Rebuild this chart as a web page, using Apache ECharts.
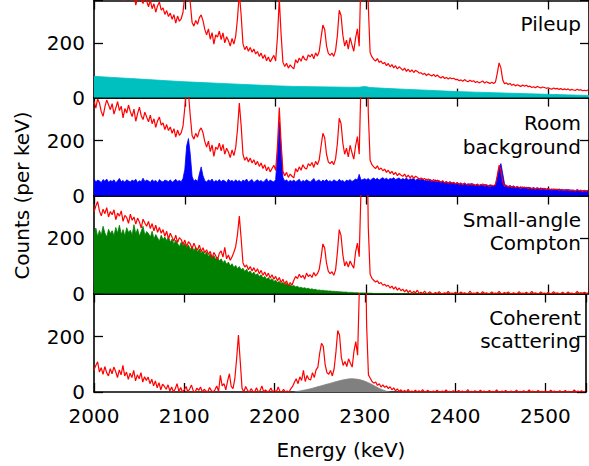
<!DOCTYPE html>
<html>
<head>
<meta charset="utf-8">
<script src="https://cdn.jsdelivr.net/npm/echarts@6/dist/echarts.min.js"></script>
<style>
  html, body { margin: 0; padding: 0; background: #fff; }
  #chart { width: 589px; height: 466px; }
</style>
</head>
<body>
<div id="chart"></div>
<script>
// spectra binned at 2 keV, first bin at 2000 keV (one row = 20 keV)
const E0 = 2000, STEP = 2;

// panel 1: measured spectrum
const dataTotal = [
  419,395,428,413,382,365,399,424,407,389,
  407,369,391,414,382,398,355,389,373,402,
  374,356,383,339,367,390,359,345,372,354,
  333,357,326,344,313,337,350,321,329,305,
  319,297,310,287,304,273,299,280,289,313,
  377,452,429,347,275,262,283,269,293,303,
  282,250,230,252,214,238,196,230,222,244,
  213,237,201,223,209,189,217,196,225,291,
  384,303,198,176,188,170,184,166,178,160,
  169,151,163,143,157,135,149,131,143,155,
  134,222,362,232,130,114,126,108,120,112,
  105,139,127,145,133,153,141,137,157,149,
  160,142,164,152,170,220,266,250,190,162,
  155,163,151,173,229,320,301,229,189,211,
  178,220,194,170,218,252,188,458,860,990,
  800,338,165,149,140,134,143,129,134,124,
  129,117,125,113,121,109,117,105,113,107,
  100,108,96,104,94,102,92,100,96,90,
  91,85,89,81,87,83,79,85,77,83,
  76,72,78,70,74,68,73,69,71,66,
  67,62,65,60,66,61,58,64,59,62,
  55,59,54,57,61,53,58,55,52,56,
  52,57,89,127,109,65,51,54,48,52,
  45,49,43,47,44,41,46,42,45,40,
  42,37,40,36,41,38,35,39,37,34,
  36,33,31,35,32,34,30,33,29,32,
  29,32,27,30,28,26,31,27,29,25,
  27,25,28
];
// panel 2: after pileup subtraction
const minusPileup = [
  342,318,351,336,305,288,322,347,330,312,
  334,296,318,341,309,325,282,316,300,329,
  305,287,314,270,298,321,290,276,303,285,
  268,292,261,279,248,272,285,256,264,240,
  258,236,249,226,243,212,238,219,228,252,
  320,395,372,290,218,205,226,212,236,246,
  228,196,176,198,160,184,142,176,168,190,
  162,186,150,172,158,138,166,145,174,240,
  336,255,150,128,140,122,136,118,130,112,
  124,106,118,98,112,90,104,86,98,110,
  92,180,320,190,88,72,84,66,78,70,
  64,98,86,104,92,112,100,96,116,108,
  120,102,124,112,130,180,226,210,150,122,
  116,124,112,134,190,281,262,190,150,172,
  140,182,156,132,180,214,150,420,820,950,
  760,300,128,112,104,98,108,94,100,90,
  96,84,92,80,88,76,84,72,80,74,
  70,78,66,74,64,72,62,70,66,60,
  64,58,62,54,60,56,52,58,50,56,
  52,48,54,46,50,44,49,45,47,42,
  46,41,44,39,45,40,37,43,38,41,
  36,40,35,38,42,34,39,36,33,37,
  35,40,72,110,92,48,34,37,31,35,
  30,34,28,32,29,26,31,27,30,25,
  29,24,27,23,28,25,22,26,24,21,
  25,22,20,24,21,23,19,22,18,21,
  19,22,17,20,18,16,21,17,19,15,
  18,16,19
];
// panel 3: after room background subtraction
const minusRoom = [
  296,318,334,300,282,306,290,312,278,298,
  286,304,268,292,281,300,262,284,276,255,
  288,266,278,252,274,260,238,270,256,244,
  262,236,254,228,248,222,240,219,232,208,
  226,198,219,204,190,212,185,203,196,178,
  194,170,188,180,162,183,166,158,176,152,
  166,148,159,142,153,128,149,137,122,146,
  155,132,168,126,140,121,133,150,170,215,
  281,200,112,96,104,86,98,82,94,78,
  90,72,84,66,78,62,74,56,68,52,
  62,46,58,40,52,34,46,28,40,30,
  48,62,54,70,58,66,52,74,62,68,
  58,76,64,72,88,130,180,165,110,80,
  72,79,66,86,150,232,210,140,100,116,
  96,118,104,92,150,183,134,380,760,900,
  700,240,70,55,48,42,46,36,40,30,
  34,26,30,20,27,16,24,12,20,10,
  16,6,14,3,11,0,8,2,12,0,
  5,0,9,0,2,6,0,0,4,0,
  7,0,0,3,0,8,0,2,0,5,
  0,0,6,0,3,0,0,9,0,2,
  0,5,0,0,7,0,3,0,0,6,
  0,2,0,8,0,0,4,0,6,0,
  0,3,0,0,7,0,2,0,5,0,
  0,8,0,3,0,0,6,0,2,0,
  4,0,0,7,0,3,0,0,5,0,
  0,6,0,2,0,0,8,0,3,0,
  5,0,2
];
// panel 4: after small-angle Compton subtraction
const minusCompton = [
  80,96,109,72,88,64,92,70,58,84,
  66,90,74,52,80,62,96,58,72,46,
  68,52,78,40,62,48,70,36,55,42,
  54,30,46,22,40,15,34,8,28,20,
  10,26,4,18,0,12,30,2,16,0,
  8,20,0,12,25,4,0,14,6,18,
  0,10,3,0,16,5,0,8,22,2,
  60,22,30,8,40,66,20,12,48,120,
  206,110,14,0,20,6,0,12,2,0,
  15,0,5,22,0,8,0,3,14,0,
  6,0,18,2,0,10,0,4,0,12,
  20,35,48,30,55,42,78,38,60,46,
  44,70,52,80,90,140,176,165,100,70,
  64,78,58,84,145,222,205,125,96,110,
  92,120,104,90,148,182,133,380,760,900,
  700,240,62,50,38,32,36,24,30,18,
  26,17,22,12,19,8,15,4,11,2,
  8,0,6,0,10,0,4,0,7,0,
  5,0,9,0,2,6,0,0,4,0,
  7,0,0,3,0,8,0,2,0,5,
  0,0,6,0,3,0,0,9,0,2,
  0,5,0,0,7,0,3,0,0,6,
  0,2,0,8,0,0,4,0,6,0,
  0,3,0,0,7,0,2,0,5,0,
  0,8,0,3,0,0,6,0,2,0,
  4,0,0,7,0,3,0,0,5,0,
  0,6,0,2,0,0,8,0,3,0,
  5,0,2
];

// fitted components
const roomBg = [
  61,49,56,53,47,58,52,60,48,55,
  51,57,46,54,62,50,55,48,57,53,
  49,56,52,59,47,54,50,63,51,56,
  53,48,57,51,55,46,58,52,49,56,
  54,50,57,48,53,59,51,55,50,62,
  95,180,207,150,70,52,58,50,78,104,
  72,54,49,57,52,60,48,55,51,58,
  50,56,53,47,59,52,55,49,57,51,
  55,48,56,52,60,49,54,58,47,53,
  57,51,55,48,53,61,50,56,52,49,
  58,150,268,180,66,52,57,49,55,51,
  56,50,54,59,48,55,51,57,53,49,
  55,62,50,54,57,49,56,52,58,51,
  54,49,57,53,50,59,52,55,48,56,
  53,58,51,55,60,56,77,56,58,61,
  57,62,55,60,64,58,63,56,61,65,
  59,63,57,62,60,65,58,61,64,57,
  62,58,64,56,61,59,63,55,60,58,
  57,61,54,59,53,58,55,52,57,50,
  54,49,52,47,51,46,50,45,48,44,
  47,42,46,41,45,40,43,39,44,40,
  38,42,37,41,36,40,38,35,39,37,
  36,39,66,100,116,80,42,35,33,36,
  32,35,30,33,29,32,28,31,27,30,
  28,26,29,25,27,24,28,23,26,24,
  25,22,24,21,23,20,24,21,22,19,
  22,19,21,18,20,17,21,18,19,17,
  19,17,18
];
const compton = [
  215,238,206,229,212,244,220,205,233,218,
  228,210,240,219,248,214,232,209,239,222,
  230,212,250,216,235,208,226,244,212,225,
  218,204,226,198,214,202,190,212,196,205,
  192,206,186,198,178,194,182,170,186,174,
  182,166,176,160,172,155,168,150,162,146,
  154,140,150,134,144,128,138,124,132,118,
  126,112,120,106,114,100,108,94,102,90,
  98,86,92,80,88,76,82,70,78,66,
  72,62,68,56,62,52,58,48,54,44,
  48,40,44,36,40,32,36,29,32,26,
  29,24,26,21,23,19,21,17,19,15,
  17,14,15,12,13,11,12,10,10,9,
  9,8,8,7,7,6,6,5,5,5,
  4,4,4,3,3,3,2,2,2,2,
  1,1,1,1,0,0,0,0,0,0,
  0,0,0,0,0,0,0,0,0,0,
  0,0,0,0,0,0,0,0,0,0,
  0,0,0,0,0,0,0,0,0,0,
  0,0,0,0,0,0,0,0,0,0,
  0,0,0,0,0,0,0,0,0,0,
  0,0,0,0,0,0,0,0,0,0,
  0,0,0,0,0,0,0,0,0,0,
  0,0,0,0,0,0,0,0,0,0,
  0,0,0,0,0,0,0,0,0,0,
  0,0,0,0,0,0,0,0,0,0,
  0,0,0,0,0,0,0,0,0,0,
  0,0,0
];
const pileupE = [2000,2020,2040,2060,2080,2100,2120,2140,2160,2180,2200,2220,2240,2260,2280,2292,2298,2304,2320,2340,2360,2380,2400,2420,2440,2460,2480,2500,2520,2545];
const pileupV = [78,74,70,66,62,58,55,52,49,46,43,41,40,39,38,38,41,37,34,31,28,25,22,20,18,16,14,12,10,8];
const coherentE = [2222,2230,2240,2250,2260,2270,2278,2285,2292,2300,2308,2316,2324,2328];
const coherentV = [0,5,12,21,30,39,45,48,46,39,27,13,3,0];

const panelLabels = [['Pileup'], ['Room', 'background'], ['Small-angle', 'Compton'], ['Coherent', 'scattering']];
const labelY = [[24], [123, 147], [220, 243], [318, 341]];
const xTicks = { min: 2000, max: 2545, interval: 100 };
const yTicks = { min: 0, max: 356, interval: 200 };

const FONT = 'DejaVu Sans';
const tops = [0.5, 97.6, 195.5, 293.5];
const heights = [97.1, 97.9, 98, 98.5];

const binned = vals => vals.map((v, i) => [E0 + STEP * i, v]);
const zipped = (xs, ys) => xs.map((x, i) => [x, ys[i]]);

const lineAxis = { show: true, onZero: false, lineStyle: { color: '#000', width: 1.6 } };
const tick = { show: true, inside: true, length: 9, lineStyle: { color: '#000', width: 1.3 } };

const grid = [], xAxis = [], yAxis = [], series = [], graphic = [];

for (let i = 0; i < 4; i++) {
  grid.push({ left: 94, right: -3, top: tops[i], height: heights[i] });
  ['bottom', 'top'].forEach(pos => {
    xAxis.push({
      type: 'value', gridIndex: i, position: pos, ...xTicks,
      axisLine: lineAxis, axisTick: tick, splitLine: { show: false },
      axisLabel: {
        show: i === 3 && pos === 'bottom', margin: 14, color: '#000', fontSize: 20, fontFamily: FONT,
        formatter: v => (v % 100 === 0 ? String(v) : '')
      }
    });
  });
  ['left', 'right'].forEach(pos => {
    yAxis.push({
      type: 'value', gridIndex: i, position: pos, ...yTicks,
      axisLine: lineAxis, axisTick: tick, splitLine: { show: false },
      axisLabel: {
        show: pos === 'left', margin: 9, color: '#000', fontSize: 20, fontFamily: FONT,
        formatter: v => (v % 200 === 0 ? String(v) : '')
      }
    });
  });
  panelLabels[i].forEach((t, k) => {
    graphic.push({
      type: 'text', x: 581, y: labelY[i][k], z: 10,
      style: { text: t, fill: '#000', font: '20px "DejaVu Sans"', align: 'right', verticalAlign: 'middle' }
    });
  });
}

function fill(idx, data, color) {
  return {
    type: 'line', xAxisIndex: 2 * idx, yAxisIndex: 2 * idx, data, symbol: 'none', silent: true, z: 2,
    lineStyle: { color, width: 0.8 }, areaStyle: { color, opacity: 1 }
  };
}
function spectrum(idx, vals) {
  return {
    type: 'line', xAxisIndex: 2 * idx, yAxisIndex: 2 * idx, data: binned(vals), symbol: 'none', silent: true, z: 3,
    lineStyle: { color: '#ff0000', width: 1.2 }
  };
}

series.push(fill(0, zipped(pileupE, pileupV), '#00bfbf'));
series.push(fill(1, binned(roomBg), '#0000ff'));
series.push(fill(2, binned(compton), '#008000'));
series.push(fill(3, zipped(coherentE, coherentV), '#808080'));
series[3].smooth = 0.3;
series.push(spectrum(0, dataTotal));
series.push(spectrum(1, minusPileup));
series.push(spectrum(2, minusRoom));
series.push(spectrum(3, minusCompton));

graphic.push({
  type: 'text', x: 341, y: 450,
  style: { text: 'Energy (keV)', fill: '#000', font: '20px "DejaVu Sans"', align: 'center', verticalAlign: 'middle' }
});
graphic.push({
  type: 'text', x: 22, y: 195.5, rotation: Math.PI / 2,
  style: { text: 'Counts (per keV)', fill: '#000', font: '20px "DejaVu Sans"', align: 'center', verticalAlign: 'middle' }
});

const chart = echarts.init(document.getElementById('chart'), null, { renderer: 'svg' });
chart.setOption({
  animation: false,
  backgroundColor: '#fff',
  textStyle: { fontFamily: FONT },
  grid, xAxis, yAxis, series, graphic
});
</script>
</body>
</html>
